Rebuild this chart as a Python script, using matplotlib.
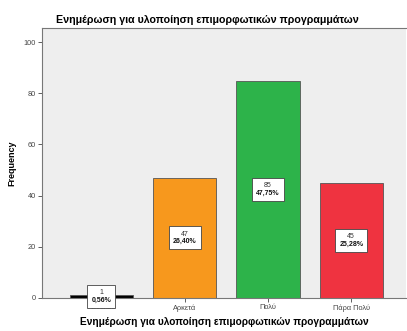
import numpy as np
import matplotlib.pyplot as plt
from matplotlib.offsetbox import TextArea, VPacker, AnnotationBbox

plt.rcParams['font.family'] = ['Liberation Sans', 'DejaVu Sans']

categories = ['Καθόλου', 'Αρκετά', 'Πολύ', 'Πάρα Πολύ']
counts = [1, 47, 85, 45]
colors = ['#000000', '#F7981D', '#2DB34A', '#EF3340']
title = 'Ενημέρωση για υλοποίηση επιμορφωτικών προγραμμάτων'

total = sum(counts)
x = np.arange(len(categories))

fig = plt.figure(figsize=(4.07, 3.31), dpi=100)
ax = fig.add_axes([0.103, 0.10, 0.895, 0.815])
ax.set_facecolor('#EEEEEE')

ax.bar(x, counts, width=0.76, color=colors, edgecolor='#555555', linewidth=0.6, zorder=2)

# count + percentage box in the middle of each bar
for xi, c in zip(x, counts):
    pct = '{:.2f}%'.format(100 * c / total).replace('.', ',')
    top = TextArea(str(c), textprops=dict(fontsize=5, color='#333333'))
    bottom = TextArea(pct, textprops=dict(fontsize=5, fontweight='bold', color='#111111'))
    box = VPacker(children=[top, bottom], align='center', pad=0, sep=0.3)
    ab = AnnotationBbox(box, (xi, c / 2), frameon=True, pad=0.2, zorder=4,
                        bboxprops=dict(boxstyle='square', fc='white', ec='#444444', lw=0.6))
    ax.add_artist(ab)

ax.set_xlim(-0.715, 3.66)
ax.set_ylim(0, 105.5)
ax.set_yticks([0, 20, 40, 60, 80, 100])
ax.set_xticks(x)
ax.set_xticklabels(categories)
ax.tick_params(axis='both', labelsize=5.3, colors='#444444', length=3, width=0.6, pad=1.5)

for side in ['left', 'bottom', 'top']:
    ax.spines[side].set_color('#777777')
    ax.spines[side].set_linewidth(0.8)
ax.spines['right'].set_visible(False)

ax.set_title(title, fontsize=7.7, fontweight='bold', pad=4, x=0.454)
ax.set_xlabel(title, fontsize=7.3, fontweight='bold', labelpad=4)
ax.set_ylabel('Frequency', fontsize=6.5, fontweight='bold', labelpad=5)

fig.savefig('out.png', dpi=100)
